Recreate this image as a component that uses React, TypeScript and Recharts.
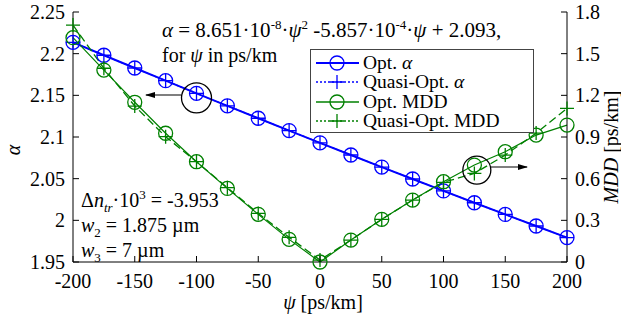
import React from 'react';
import { ComposedChart, Line, XAxis, YAxis, Legend, ReferenceDot } from 'recharts';

const psi = [-200, -175, -150, -125, -100, -75, -50, -25, 0, 25, 50, 75, 100, 125, 150, 175, 200];
const optAlpha = [2.2136, 2.1981, 2.1828, 2.1676, 2.1524, 2.1374, 2.1225, 2.1077, 2.093, 2.0784, 2.0639, 2.0496, 2.0353, 2.0211, 2.0071, 1.9932, 1.9793];
const quasiAlpha = [2.2136, 2.1981, 2.1828, 2.1676, 2.1524, 2.1374, 2.1225, 2.1077, 2.093, 2.0784, 2.0639, 2.0496, 2.0353, 2.0211, 2.0071, 1.9932, 1.9793];
const optMDD = [1.615, 1.382, 1.15, 0.927, 0.722, 0.53, 0.343, 0.163, 0.0, 0.158, 0.307, 0.446, 0.578, 0.698, 0.794, 0.914, 0.986];
const quasiMDD = [1.706, 1.395, 1.123, 0.902, 0.722, 0.535, 0.35, 0.178, 0.014, 0.158, 0.307, 0.446, 0.574, 0.638, 0.77, 0.928, 1.106];

const xTicks = [-200, -150, -100, -50, 0, 50, 100, 150, 200];
const alphaTicks = [1.95, 2, 2.05, 2.1, 2.15, 2.2, 2.25];
const mddTicks = [0, 0.3, 0.6, 0.9, 1.2, 1.5, 1.8];

const BLUE = '#0000ff';
const GREEN = '#008000';
const FONT = "'Liberation Serif', 'Times New Roman', 'Nimbus Roman', 'DejaVu Serif', serif";
const FS = 20;
const TS: React.CSSProperties = { fontFamily: FONT, fontSize: FS };
const TS21: React.CSSProperties = { fontFamily: FONT, fontSize: 21 };

const data = psi.map((p, i) => ({
  psi: p,
  optAlpha: optAlpha[i],
  quasiAlpha: quasiAlpha[i],
  optMDD: optMDD[i],
  quasiMDD: quasiMDD[i],
}));

const TL = 6;

const BottomTick = (props: any) => {
  const { x, y, payload } = props;
  return (
    <g>
      <line x1={x} y1={y} x2={x} y2={y - TL} stroke="#000" strokeWidth={1} />
      <text x={x} y={y + 26} textAnchor="middle" style={TS} fill="#000">
        {String(payload.value)}
      </text>
    </g>
  );
};
const TopTick = (props: any) => {
  const { x, y } = props;
  return <line x1={x} y1={y} x2={x} y2={y + TL} stroke="#000" strokeWidth={1} />;
};
const LeftTick = (props: any) => {
  const { x, y, payload } = props;
  return (
    <g>
      <line x1={x} y1={y} x2={x + TL} y2={y} stroke="#000" strokeWidth={1} />
      <text x={x - 8} y={y + 7} textAnchor="end" style={TS} fill="#000">
        {String(payload.value)}
      </text>
    </g>
  );
};
const RightTick = (props: any) => {
  const { x, y, payload } = props;
  return (
    <g>
      <line x1={x} y1={y} x2={x - TL} y2={y} stroke="#000" strokeWidth={1} />
      <text x={x + 8} y={y + 7} textAnchor="start" style={TS} fill="#000">
        {String(payload.value)}
      </text>
    </g>
  );
};

const circleDot = (color: string, r: number, sw: number, tag: string) => (props: any) => {
  const { cx, cy, index } = props;
  if (cx == null || cy == null) return <g key={`${tag}${index}`} />;
  return <circle key={`${tag}${index}`} cx={cx} cy={cy} r={r} fill="none" stroke={color} strokeWidth={sw} />;
};
const plusDot = (color: string, h: number, sw: number, tag: string) => (props: any) => {
  const { cx, cy, index } = props;
  if (cx == null || cy == null) return <g key={`${tag}${index}`} />;
  return (
    <path
      key={`${tag}${index}`}
      d={`M${cx - h},${cy}H${cx + h}M${cx},${cy - h}V${cy + h}`}
      stroke={color}
      strokeWidth={sw}
      fill="none"
    />
  );
};

const legendItems = [
  { label: 'Opt. ', sym: 'α', color: BLUE, dash: undefined as string | undefined, marker: 'circle', w: 2 },
  { label: 'Quasi-Opt. ', sym: 'α', color: BLUE, dash: '2 2', marker: 'plus', w: 1.3 },
  { label: 'Opt. MDD', sym: '', color: GREEN, dash: undefined, marker: 'circle', w: 1.3 },
  { label: 'Quasi-Opt. MDD', sym: '', color: GREEN, dash: '2 2', marker: 'plus', w: 1.3 },
];

const LegendBox = () => (
  <div
    style={{
      width: 222,
      height: 79,
      border: '1px solid #444',
      background: '#fff',
      fontFamily: FONT,
      fontSize: 19.5,
      boxSizing: 'content-box',
      paddingTop: 3,
    }}
  >
    {legendItems.map((it) => (
      <div key={it.label + it.sym} style={{ display: 'flex', alignItems: 'center', height: 19.3, lineHeight: '19.3px' }}>
        <svg width={52} height={19} style={{ flex: 'none' }}>
          <line x1={5} y1={10} x2={48} y2={10} stroke={it.color} strokeWidth={it.w} strokeDasharray={it.dash} />
          {it.marker === 'circle' ? (
            <circle cx={26} cy={10} r={7} fill="none" stroke={it.color} strokeWidth={1.3} />
          ) : (
            <path d="M19,10H33M26,3V17" stroke={it.color} strokeWidth={1.3} />
          )}
        </svg>
        <span style={{ whiteSpace: 'nowrap' }}>
          {it.label}
          {it.sym ? <i>{it.sym}</i> : null}
        </span>
      </div>
    ))}
  </div>
);

export default function App() {
  return (
    <div style={{ position: 'absolute', left: 0, top: 0, width: 621, height: 323, background: '#fff', fontFamily: FONT }}>
      <ComposedChart width={621} height={323} data={data} margin={{ top: 12, right: 0, bottom: 0, left: 0 }}>
        <defs>
          <marker id="arrowHead" markerWidth="10" markerHeight="8" refX="9" refY="4" orient="auto" markerUnits="userSpaceOnUse">
            <path d="M0,1 L10,4 L0,7 Z" fill="#000" />
          </marker>
        </defs>
        <XAxis
          xAxisId="bottom"
          dataKey="psi"
          type="number"
          domain={[-200, 200]}
          ticks={xTicks}
          orientation="bottom"
          height={61}
          tickLine={false}
          tickSize={0}
          tickMargin={0}
          tick={<BottomTick />}
          axisLine={{ stroke: '#000', strokeWidth: 1 }}
          interval={0}
        />
        <XAxis
          xAxisId="top"
          dataKey="psi"
          type="number"
          domain={[-200, 200]}
          ticks={xTicks}
          orientation="top"
          height={0}
          tickLine={false}
          tickSize={0}
          tickMargin={0}
          tick={<TopTick />}
          axisLine={{ stroke: '#000', strokeWidth: 1 }}
          interval={0}
        />
        <YAxis
          yAxisId="left"
          type="number"
          domain={[1.95, 2.25]}
          ticks={alphaTicks}
          orientation="left"
          width={73}
          tickLine={false}
          tickSize={0}
          tickMargin={0}
          tick={<LeftTick />}
          axisLine={{ stroke: '#000', strokeWidth: 1 }}
          interval={0}
        />
        <YAxis
          yAxisId="right"
          type="number"
          domain={[0, 1.8]}
          ticks={mddTicks}
          orientation="right"
          width={54}
          tickLine={false}
          tickSize={0}
          tickMargin={0}
          tick={<RightTick />}
          axisLine={{ stroke: '#000', strokeWidth: 1 }}
          interval={0}
        />
        <Legend
          verticalAlign="middle"
          align="center"
          layout="horizontal"
          content={() => <LegendBox />}
          wrapperStyle={{ left: 310, top: 49, width: 'auto', height: 'auto' }}
        />
        <Line
          xAxisId="bottom"
          yAxisId="left"
          dataKey="quasiAlpha"
          stroke={BLUE}
          strokeWidth={1.3}
          strokeDasharray="2 2"
          dot={plusDot(BLUE, 7, 1.3, 'qa')}
          isAnimationActive={false}
        />
        <Line
          xAxisId="bottom"
          yAxisId="left"
          dataKey="optAlpha"
          stroke={BLUE}
          strokeWidth={2}
          dot={circleDot(BLUE, 7, 1.3, 'oa')}
          isAnimationActive={false}
        />
        <Line
          xAxisId="top"
          yAxisId="right"
          dataKey="optMDD"
          stroke={GREEN}
          strokeWidth={1.2}
          dot={circleDot(GREEN, 7, 1.3, 'om')}
          isAnimationActive={false}
        />
        <Line
          xAxisId="top"
          yAxisId="right"
          dataKey="quasiMDD"
          stroke={GREEN}
          strokeWidth={1.3}
          strokeDasharray="8 4"
          dot={plusDot(GREEN, 7, 1.3, 'qm')}
          isAnimationActive={false}
        />
        <ReferenceDot xAxisId="bottom" yAxisId="left" x={-100} y={2.147} r={15} fill="none" stroke="#000" strokeWidth={1.3} />
        <ReferenceDot xAxisId="top" yAxisId="right" x={127} y={0.662} r={14} fill="none" stroke="#000" strokeWidth={1.3} />
        <g style={TS}>
          <line x1={181} y1={95} x2={146} y2={95} stroke="#000" strokeWidth={1.2} markerEnd="url(#arrowHead)" />
          <line x1={491} y1={167} x2={527} y2={167} stroke="#000" strokeWidth={1.2} markerEnd="url(#arrowHead)" />
          <text x={162} y={37} style={TS21} fill="#000">
            <tspan fontStyle="italic">α</tspan>
            <tspan> = 8.651·10</tspan>
            <tspan dy={-8} style={{ fontSize: 13 }}>-8</tspan>
            <tspan dy={8}>·</tspan>
            <tspan fontStyle="italic">ψ</tspan>
            <tspan dy={-8} style={{ fontSize: 13 }}>2</tspan>
            <tspan dy={8}> -5.857·10</tspan>
            <tspan dy={-8} style={{ fontSize: 13 }}>-4</tspan>
            <tspan dy={8}>·</tspan>
            <tspan fontStyle="italic">ψ</tspan>
            <tspan> + 2.093,</tspan>
          </text>
          <text x={162} y={62} style={TS} fill="#000">
            <tspan>for </tspan>
            <tspan fontStyle="italic">ψ</tspan>
            <tspan> in ps/km</tspan>
          </text>
          <text x={81} y={207} style={TS} fill="#000">
            <tspan>Δ</tspan>
            <tspan fontStyle="italic">n</tspan>
            <tspan dy={5} style={{ fontSize: 13 }} fontStyle="italic">tr</tspan>
            <tspan dy={-5}>·10</tspan>
            <tspan dy={-8} style={{ fontSize: 13 }}>3</tspan>
            <tspan dy={8}> = -3.953</tspan>
          </text>
          <text x={81} y={232} style={TS} fill="#000">
            <tspan fontStyle="italic">w</tspan>
            <tspan dy={5} style={{ fontSize: 13 }}>2</tspan>
            <tspan dy={-5}> = 1.875 µm</tspan>
          </text>
          <text x={81} y={257} style={TS} fill="#000">
            <tspan fontStyle="italic">w</tspan>
            <tspan dy={5} style={{ fontSize: 13 }}>3</tspan>
            <tspan dy={-5}> = 7 µm</tspan>
          </text>
          <text x={0} y={0} transform="translate(20,150) rotate(-90)" textAnchor="middle" style={TS} fontStyle="italic" fill="#000">
            α
          </text>
          <text x={323} y={309} textAnchor="middle" style={TS} fill="#000">
            <tspan fontStyle="italic">ψ</tspan>
            <tspan> [ps/km]</tspan>
          </text>
          <text x={0} y={0} transform="translate(618,147) rotate(-90)" textAnchor="middle" style={TS} fill="#000">
            <tspan fontStyle="italic">MDD</tspan>
            <tspan> [ps/km]</tspan>
          </text>
        </g>
      </ComposedChart>
    </div>
  );
}
